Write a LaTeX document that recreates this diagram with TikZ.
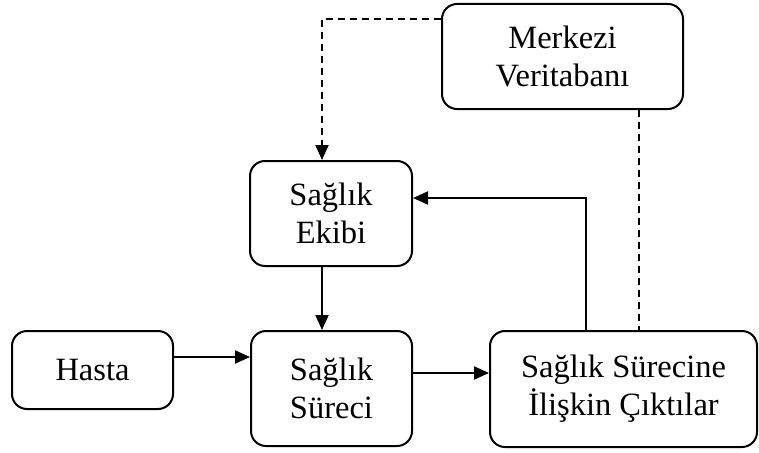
\documentclass[tikz,border=0pt]{standalone}
\usepackage{fontspec}
\setmainfont{Liberation Serif}
\usetikzlibrary{arrows.meta,calc}
\begin{document}
\begin{tikzpicture}[x=1pt,y=-1pt,
  box/.style={draw,line width=2pt,rounded corners=15pt,align=center,
    inner sep=0pt,font=\fontsize{32.5}{38}\selectfont},
  flow/.style={line width=2pt,-{Triangle[length=15pt,width=13pt]}},
  link/.style={line width=2pt,dash pattern=on 7pt off 5pt}]
\useasboundingbox (0,0) rectangle (759,452);
% boxes
\node[box,minimum width=241pt,minimum height=105pt] (mv) at (562.5,56.5) {Merkezi\\Veritabanı};
\node[box,minimum width=162pt,minimum height=105pt] (ekibi) at (331,213.5) {Sağlık\\Ekibi};
\node[box,minimum width=161pt,minimum height=78pt] (hasta) at (92.5,370) {Hasta};
\node[box,minimum width=161pt,minimum height=115pt] (sureci) at (331.5,388.5) {Sağlık\\Süreci};
\node[box,minimum width=267pt,minimum height=116pt] (cikti) at (623.5,389) {Sağlık Sürecine\\İlişkin Çıktılar};
% connectors
\draw[link,-{Triangle[length=15pt,width=13pt]}] (mv.west |- 0,19) -| (ekibi.north -| 322,0);
\draw[link] (mv.south -| 639,0) -- (cikti.north -| 639,0);
\draw[flow] (ekibi.south -| 322,0) -- (sureci.north -| 322,0);
\draw[flow] (hasta.east |- 0,357) -- (sureci.west |- 0,357);
\draw[flow] (sureci.east |- 0,373) -- (cikti.west |- 0,373);
\draw[flow] (cikti.north -| 586,0) |- (ekibi.east |- 0,198);
\end{tikzpicture}
\end{document}
